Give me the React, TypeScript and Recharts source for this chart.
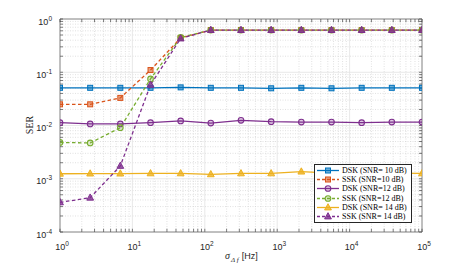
import React from "react";
import {
  LineChart,
  Line,
  XAxis,
  YAxis,
  ReferenceLine,
  ReferenceArea,
  Legend,
} from "recharts";

// sigma_delta_f sample points [Hz]
const freqs = [1, 2.61, 6.81, 17.8, 46.4, 121, 316, 825, 2154, 5623, 14678, 38312, 100000];

const dsk10 = [0.051, 0.051, 0.051, 0.051, 0.052, 0.051, 0.051, 0.05, 0.051, 0.05, 0.051, 0.051, 0.051];
const ssk10 = [0.025, 0.025, 0.033, 0.11, 0.44, 0.62, 0.62, 0.62, 0.62, 0.62, 0.62, 0.62, 0.62];
const dsk12 = [0.0113, 0.0107, 0.0107, 0.0113, 0.0122, 0.0111, 0.0125, 0.0118, 0.0116, 0.0116, 0.0113, 0.0116, 0.0116];
const ssk12 = [0.0048, 0.0047, 0.0091, 0.075, 0.45, 0.62, 0.62, 0.62, 0.62, 0.62, 0.62, 0.62, 0.62];
const dsk14 = [0.00124, 0.00125, 0.00125, 0.00126, 0.00126, 0.00121, 0.00126, 0.00126, 0.00136, 0.00128, 0.00128, 0.00128, 0.00126];
const ssk14 = [0.00036, 0.00044, 0.00174, 0.058, 0.43, 0.62, 0.62, 0.62, 0.62, 0.62, 0.62, 0.62, 0.62];

const xTicks = [1, 10, 100, 1000, 10000, 100000];
const yTicks = [0.0001, 0.001, 0.01, 0.1, 1];

type Series = {
  key: string;
  name: string;
  values: number[];
  color: string;
  dashed: boolean;
  marker: "square" | "circle" | "triangle";
};

const series: Series[] = [
  { key: "dsk10", name: "DSK (SNR= 10 dB)", values: dsk10, color: "#0072BD", dashed: false, marker: "square" },
  { key: "ssk10", name: "SSK (SNR=10 dB)", values: ssk10, color: "#D95319", dashed: true, marker: "square" },
  { key: "dsk12", name: "DSK (SNR=12 dB)", values: dsk12, color: "#7E2F8E", dashed: false, marker: "circle" },
  { key: "ssk12", name: "SSK (SNR=12 dB)", values: ssk12, color: "#77AC30", dashed: true, marker: "circle" },
  { key: "dsk14", name: "DSK (SNR= 14 dB)", values: dsk14, color: "#EDB120", dashed: false, marker: "triangle" },
  { key: "ssk14", name: "SSK (SNR= 14 dB)", values: ssk14, color: "#7E2F8E", dashed: true, marker: "triangle" },
];

const data = freqs.map((f, i) => {
  const row: Record<string, number> = { f };
  series.forEach((s) => (row[s.key] = s.values[i]));
  return row;
});

// minor grid positions
const minorX: number[] = [];
for (const d of [1, 10, 100, 1000, 10000]) for (let k = 2; k <= 9; k++) minorX.push(d * k);
const minorY: number[] = [];
for (const d of [0.0001, 0.001, 0.01, 0.1]) for (let k = 2; k <= 9; k++) minorY.push(d * k);

function Marker({ x, y, s }: { x: number; y: number; s: Series }) {
  if (s.marker === "square")
    return <rect x={x - 2.5} y={y - 2.5} width={5} height={5} fill={s.color} fillOpacity={0.55} stroke={s.color} strokeWidth={1} />;
  if (s.marker === "circle")
    return <circle cx={x} cy={y} r={2.8} fill={s.color} fillOpacity={0.25} stroke={s.color} strokeWidth={1.1} />;
  return (
    <polygon
      points={`${x},${y - 3.8} ${x + 3.4},${y + 2.4} ${x - 3.4},${y + 2.4}`}
      fill={s.color}
      fillOpacity={0.8}
      stroke={s.color}
      strokeWidth={1}
    />
  );
}

const tickColor = "#262626";

const XTick = (props: any) => {
  const { x, y, payload } = props;
  const e = Math.round(Math.log10(payload.value));
  return (
    <text x={x + 2} y={y + 10} textAnchor="middle" fill={tickColor} fontFamily="Liberation Sans, Arial, sans-serif" fontSize={9}>
      <tspan>10</tspan>
      <tspan dy={-4} fontSize={6.5}>{e}</tspan>
    </text>
  );
};

const YTick = (props: any) => {
  const { x, y, payload } = props;
  const e = Math.round(Math.log10(payload.value));
  return (
    <text x={x} y={y + 5.5} textAnchor="end" fill={tickColor} fontFamily="Liberation Sans, Arial, sans-serif" fontSize={9}>
      <tspan>10</tspan>
      <tspan dy={-4} fontSize={6.5}>{e}</tspan>
    </text>
  );
};

const LegendBox = () => (
  <div
    style={{
      background: "#fff",
      border: "1px solid #262626",
      width: 96,
      padding: "1px 0",
      fontFamily: "Liberation Serif, Times New Roman, serif",
      fontSize: 8,
      color: "#000",
    }}
  >
    {series.map((s) => (
      <div key={s.key} style={{ display: "flex", alignItems: "center", height: 9.2 }}>
        <svg width={26} height={9} style={{ flex: "none" }}>
          <line x1={2} x2={24} y1={4.5} y2={4.5} stroke={s.color} strokeWidth={1.3} strokeDasharray={s.dashed ? "3 2" : undefined} />
          <Marker x={13} y={4.5} s={s} />
        </svg>
        <span style={{ whiteSpace: "nowrap", marginLeft: 1 }}>{s.name}</span>
      </div>
    ))}
  </div>
);

export default function App() {
  return (
    <div style={{ width: 465, height: 266, background: "#fff", position: "relative" }}>
      <style>{"body{margin:0}"}</style>
      <LineChart width={465} height={266} data={data} margin={{ top: 19, right: 43, bottom: 0, left: 0 }}>
        {minorX.map((v) => (
          <ReferenceLine key={"mx" + v} x={v} stroke="#d4d4d4" strokeWidth={0.7} strokeDasharray="1 1.5" />
        ))}
        {minorY.map((v) => (
          <ReferenceLine key={"my" + v} y={v} stroke="#d4d4d4" strokeWidth={0.7} strokeDasharray="1 1.5" />
        ))}
        {xTicks.map((v) => (
          <ReferenceLine key={"gx" + v} x={v} stroke="#e2e2e2" strokeWidth={0.8} />
        ))}
        {yTicks.map((v) => (
          <ReferenceLine key={"gy" + v} y={v} stroke="#e2e2e2" strokeWidth={0.8} />
        ))}
        <XAxis
          dataKey="f"
          type="number"
          scale="log"
          domain={[1, 100000]}
          ticks={xTicks}
          tick={<XTick />}
          tickLine={false}
          axisLine={false}
          height={34}
          allowDataOverflow
          label={{
            content: () => (
              <text x={225} y={259} fill={tickColor} fontSize={9}>
                <tspan fontFamily="Liberation Serif, serif" fontStyle="italic" fontSize={10}>σ</tspan>
                <tspan fontFamily="Liberation Serif, serif" fontStyle="italic" fontSize={7} dy={3} dx={1}>Δ f</tspan>
                <tspan fontFamily="Liberation Sans, Arial, sans-serif" dy={-3} dx={3}>[Hz]</tspan>
              </text>
            ),
          }}
        />
        <YAxis
          type="number"
          scale="log"
          domain={[0.0001, 1]}
          ticks={yTicks}
          tick={<YTick />}
          tickLine={false}
          axisLine={false}
          width={60}
          allowDataOverflow
          label={{
            content: () => (
              <text
                x={33}
                y={125}
                transform="rotate(-90 33 125)"
                textAnchor="middle"
                fill={tickColor}
                fontFamily="Liberation Serif, Times New Roman, serif"
                fontSize={10}
              >
                SER
              </text>
            ),
          }}
        />
        {/* inner tick marks */}
        {[...xTicks, ...minorX].map((v) => (
          <ReferenceLine key={"tb" + v} segment={[{ x: v, y: 0.0001 }, { x: v, y: 0.000115 }]} stroke="#262626" strokeWidth={0.6} />
        ))}
        {[...xTicks, ...minorX].map((v) => (
          <ReferenceLine key={"tt" + v} segment={[{ x: v, y: 1 }, { x: v, y: 0.87 }]} stroke="#262626" strokeWidth={0.6} />
        ))}
        {[...yTicks, ...minorY].map((v) => (
          <ReferenceLine key={"tl" + v} segment={[{ x: 1, y: v }, { x: 1.1, y: v }]} stroke="#262626" strokeWidth={0.6} />
        ))}
        {[...yTicks, ...minorY].map((v) => (
          <ReferenceLine key={"tr" + v} segment={[{ x: 100000, y: v }, { x: 91000, y: v }]} stroke="#262626" strokeWidth={0.6} />
        ))}
        <ReferenceArea x1={1} x2={100000} y1={0.0001} y2={1} fill="none" stroke="#262626" strokeWidth={0.8} />
        {series.map((s) => (
          <Line
            key={s.key}
            dataKey={s.key}
            name={s.name}
            stroke={s.color}
            strokeWidth={1.3}
            strokeDasharray={s.dashed ? "3.5 2.5" : undefined}
            isAnimationActive={false}
            dot={(p: any) => <Marker key={s.key + p.index} x={p.cx} y={p.cy} s={s} />}
            activeDot={false}
          />
        ))}
        <Legend
          layout="horizontal"
          verticalAlign="middle"
          align="center"
          content={<LegendBox />}
          wrapperStyle={{ position: "absolute", left: 314, top: 164, width: 98, height: 58 }}
        />
      </LineChart>
    </div>
  );
}
